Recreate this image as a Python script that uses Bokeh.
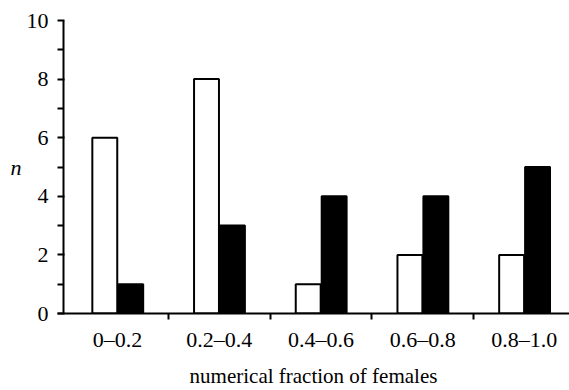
from bokeh.plotting import figure
from bokeh.models import Range1d, FixedTicker, Span
from bokeh.embed import file_html
from bokeh.resources import INLINE

# Distribution of groups by the fraction of females they contain
categories = ["0\u20130.2", "0.2\u20130.4", "0.4\u20130.6", "0.6\u20130.8", "0.8\u20131.0"]
open_counts = [6, 8, 1, 2, 2]     # white bars
filled_counts = [1, 3, 4, 4, 5]   # black bars
y_ticks = [0, 2, 4, 6, 8, 10]
y_minor = [1, 3, 5, 7, 9]

FONT = "Liberation Serif"

idx = list(range(len(categories)))
bounds = [i + 0.5 for i in idx[:-1]]

p = figure(
    width=569, height=390,
    x_range=Range1d(-0.59, 4.444),
    y_range=Range1d(0, 10),
    output_backend="svg", toolbar_location=None,
    min_border_left=57, min_border_right=0,
    min_border_top=20, min_border_bottom=76,
)
p.outline_line_color = None
p.grid.grid_line_color = None
p.background_fill_color = "white"
p.border_fill_color = "white"

# bars
p.vbar(x=[i - 0.125 for i in idx], top=open_counts, bottom=0, width=0.245,
       fill_color="white", line_color="black", line_width=2)
p.vbar(x=[i + 0.13 for i in idx], top=filled_counts, bottom=0, width=0.245,
       fill_color="black", line_color="black", line_width=2)

# y axis: line drawn as a span slightly inside the frame, ticks pointing left to it
p.add_layout(Span(location=-0.531, dimension="height", line_color="black", line_width=2))
ya = p.yaxis[0]
ya.ticker = FixedTicker(ticks=y_ticks, minor_ticks=y_minor)
ya.axis_line_color = None
ya.major_tick_in = 7
ya.major_tick_out = 0
ya.minor_tick_in = 6
ya.minor_tick_out = 0
ya.major_tick_line_width = 2
ya.minor_tick_line_width = 2
ya.major_label_standoff = 9
ya.major_label_text_font = FONT
ya.major_label_text_font_size = "22px"
ya.major_label_text_color = "black"
ya.axis_label = "n"
ya.axis_label_orientation = "horizontal"
ya.axis_label_text_font = FONT
ya.axis_label_text_font_style = "italic"
ya.axis_label_text_font_size = "22px"
ya.axis_label_text_color = "black"
ya.axis_label_standoff = 2

# x axis: labels centred on groups, tick marks on group boundaries
xa = p.xaxis[0]
xa.ticker = FixedTicker(ticks=idx, minor_ticks=bounds)
xa.major_label_overrides = {i: c for i, c in zip(idx, categories)}
xa.axis_line_width = 2
xa.major_tick_line_color = None
xa.minor_tick_in = 0
xa.minor_tick_out = 6
xa.minor_tick_line_width = 2
xa.major_label_standoff = 7
xa.major_label_text_font = FONT
xa.major_label_text_font_size = "22px"
xa.major_label_text_color = "black"
xa.axis_label = "numerical fraction of females"
xa.axis_label_text_font = FONT
xa.axis_label_text_font_style = "normal"
xa.axis_label_text_font_size = "21px"
xa.axis_label_text_color = "black"
xa.axis_label_standoff = 9

open("out.html", "w").write(file_html(p, INLINE))
